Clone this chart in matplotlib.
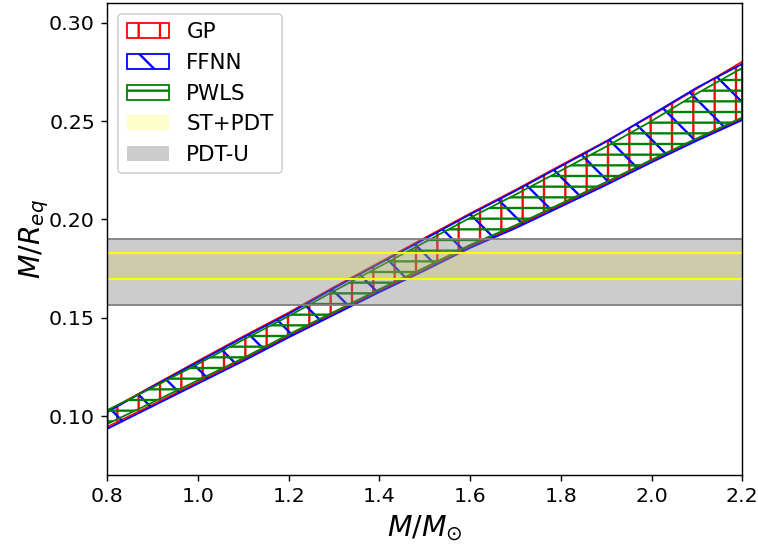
import matplotlib
matplotlib.use("Agg")
import matplotlib.pyplot as plt

plt.rcParams["hatch.linewidth"] = 1.3

# compactness bands vs mass
mass = [0.8, 0.9, 1.0, 1.1, 1.2, 1.3, 1.4, 1.5, 1.6, 1.7, 1.8, 1.9, 2.0, 2.1, 2.2]

gp_upper = [0.1025, 0.1153, 0.1280, 0.1405, 0.1526, 0.1656, 0.1781, 0.1906, 0.2030, 0.2150, 0.2275, 0.2398, 0.2528, 0.2665, 0.2802]
gp_lower = [0.0945, 0.1058, 0.1173, 0.1288, 0.1408, 0.1523, 0.1638, 0.1748, 0.1863, 0.1963, 0.2073, 0.2183, 0.2298, 0.2408, 0.2512]
ffnn_upper = [0.1020, 0.1150, 0.1275, 0.1400, 0.1520, 0.1650, 0.1775, 0.1900, 0.2025, 0.2145, 0.2270, 0.2395, 0.2532, 0.2670, 0.2790]
ffnn_lower = [0.0935, 0.1050, 0.1165, 0.1280, 0.1400, 0.1515, 0.1630, 0.1740, 0.1855, 0.1955, 0.2065, 0.2175, 0.2290, 0.2400, 0.2505]
pwls_upper = [0.1030, 0.1145, 0.1265, 0.1388, 0.1508, 0.1636, 0.1760, 0.1884, 0.2008, 0.2126, 0.2248, 0.2370, 0.2500, 0.2640, 0.2770]
pwls_lower = [0.0960, 0.1070, 0.1182, 0.1295, 0.1415, 0.1530, 0.1645, 0.1755, 0.1870, 0.1970, 0.2080, 0.2190, 0.2303, 0.2412, 0.2518]

# horizontal constraints
st_pdt = [0.1697, 0.1828]
pdt_u = [0.1567, 0.1899]

fig = plt.figure(figsize=(758 / 128, 546 / 128), dpi=128)
ax = fig.add_axes([0.1416, 0.130, 0.8377, 0.8645])

ax.fill_between(mass, gp_lower, gp_upper, facecolor="none", edgecolor="red", hatch="|", label="GP")
ax.fill_between(mass, ffnn_lower, ffnn_upper, facecolor="none", edgecolor="blue", hatch="\\", label="FFNN")
ax.fill_between(mass, pwls_lower, pwls_upper, facecolor="none", edgecolor="green", hatch="--", label="PWLS")

ax.axhspan(st_pdt[0], st_pdt[1], color="yellow", alpha=0.2, lw=0, label="ST+PDT")
for y in st_pdt:
    ax.axhline(y, color="yellow", lw=1.2)
ax.axhspan(pdt_u[0], pdt_u[1], color="gray", alpha=0.4, lw=0, label="PDT-U")
for y in pdt_u:
    ax.axhline(y, color="gray", lw=1.0)

ax.set_xlim(0.8, 2.2)
ax.set_ylim(0.07, 0.31)
ax.set_yticks([0.10, 0.15, 0.20, 0.25, 0.30])
ax.tick_params(labelsize=11.5)
ax.set_xlabel(r"$M/M_{\odot}$", fontsize=16)
ax.set_ylabel(r"$M/R_{eq}$", fontsize=16, labelpad=-1)
ax.legend(loc="upper left", fontsize=12)

fig.savefig("out.png", dpi=128)
